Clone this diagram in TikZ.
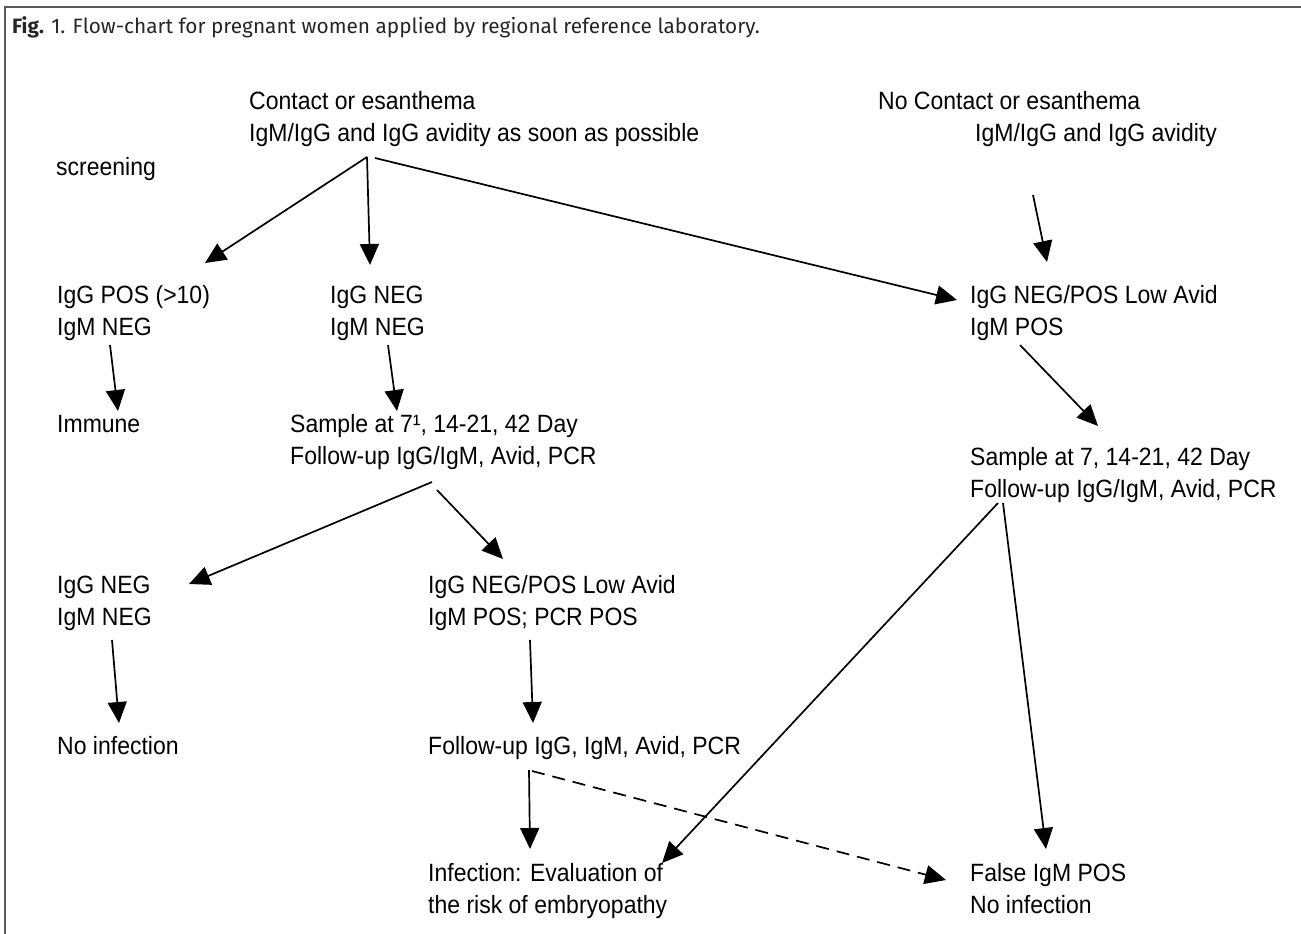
\documentclass[tikz,border=0pt]{standalone}
\usepackage{fontspec}
\setmainfont{Liberation Sans}[FakeStretch=0.92]
\newfontfamily\capfont{Fira Sans}
\usetikzlibrary{arrows.meta}
\begin{document}
\begin{tikzpicture}[x=1pt,y=-1pt,
  lbl/.style={anchor=base west,inner sep=0pt,align=left,font=\fontsize{25}{32}\selectfont},
  arr/.style={line width=1.7pt,-{Triangle[length=21pt,width=19pt]}},
  darr/.style={arr,dash pattern=on 13pt off 8pt}]
\useasboundingbox (0,0) rectangle (1301,934);
\draw[line width=1.4pt,black!65] (5,934) -- (5,7) -- (1301,7);
\node[anchor=base west,inner sep=0pt,font=\capfont\fontsize{20.8}{24}\selectfont,text=black!85] (cap) at (12,34)
  {\textbf{Fig.} 1. Flow-chart for pregnant women applied by regional reference laboratory.};

\node[lbl] (c1) at (249,141) {Contact or esanthema\\IgM/IgG and IgG avidity as soon as possible};
\node[lbl] (nc) at (878,141) {No Contact or esanthema\\\hspace*{97pt}IgM/IgG and IgG avidity};
\node[lbl] (scr) at (56,175) {screening};
\node[lbl] (n1) at (57,335) {IgG POS (>10)\\IgM NEG};
\node[lbl] (n2) at (330,335) {IgG NEG\\IgM NEG};
\node[lbl] (n3) at (970,335) {IgG NEG/POS Low Avid\\IgM POS};
\node[lbl] (imm) at (57,432) {Immune};
\node[lbl] (s1) at (290,464) {Sample at 7¹, 14-21, 42 Day\\Follow-up IgG/IgM, Avid, PCR};
\node[lbl] (s2) at (970,497) {Sample at 7, 14-21, 42 Day\\Follow-up IgG/IgM, Avid, PCR};
\node[lbl] (n4) at (57,625) {IgG NEG\\IgM NEG};
\node[lbl] (n5) at (428,625) {IgG NEG/POS Low Avid\\IgM POS; PCR POS};
\node[lbl] (noinf) at (57,754) {No infection};
\node[lbl] (fu) at (428,754) {Follow-up IgG, IgM, Avid, PCR};
\node[lbl] (inf) at (428,913) {Infection: Evaluation of\\the risk of embryopathy};
\node[lbl] (fp) at (970,913) {False IgM POS\\No infection};

\coordinate (a0) at (367,157);
\coordinate (a0b) at (375,158);
\coordinate (t1) at (205,263);
\coordinate (t2) at (370,265);
\coordinate (t3) at (957,300);
\coordinate (b4) at (1033,195);
\coordinate (t4) at (1047,262);
\coordinate (b5) at (110,345);
\coordinate (t5) at (118,411);
\coordinate (b6) at (388,345);
\coordinate (t6) at (397,411);
\coordinate (b7) at (1020,345);
\coordinate (t7) at (1098,426);
\coordinate (b8) at (432,482);
\coordinate (t8) at (189,584);
\coordinate (b9) at (437,490);
\coordinate (t9) at (503,559);
\coordinate (b10) at (112,640);
\coordinate (t10) at (119,723);
\coordinate (b11) at (530,640);
\coordinate (t11) at (533,723);
\coordinate (b12) at (529,770);
\coordinate (t12) at (530,849);
\coordinate (b13) at (532,771);
\coordinate (t13) at (946,880);
\coordinate (a14) at (998,503);
\coordinate (a14b) at (1003,503);
\coordinate (t14) at (662,863);
\coordinate (t15) at (1046,849);

\draw[arr] (a0) -- (t1);
\draw[arr] (a0) -- (t2);
\draw[arr] (a0b) -- (t3);
\draw[arr] (b4) -- (t4);
\draw[arr] (b5) -- (t5);
\draw[arr] (b6) -- (t6);
\draw[arr] (b7) -- (t7);
\draw[arr] (b8) -- (t8);
\draw[arr] (b9) -- (t9);
\draw[arr] (b10) -- (t10);
\draw[arr] (b11) -- (t11);
\draw[arr] (b12) -- (t12);
\draw[darr] (b13) -- (t13);
\draw[arr] (a14) -- (t14);
\draw[arr] (a14b) -- (t15);
\end{tikzpicture}
\end{document}
